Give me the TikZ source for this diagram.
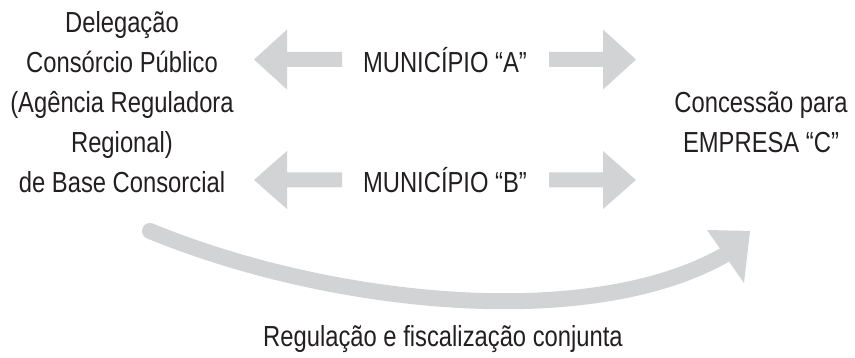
\documentclass[tikz,border=0pt]{standalone}
\usepackage{fontspec}
\setmainfont{Liberation Sans}[FakeStretch=0.82]
\definecolor{arrowgrey}{RGB}{209,211,212}
\definecolor{textgrey}{RGB}{35,31,32}
\begin{document}
\begin{tikzpicture}[x=1pt,y=-1pt,
  txt/.style={font=\fontsize{29}{40}\selectfont, text=textgrey, inner sep=0pt, anchor=base},
  blockfill/.style={fill=arrowgrey, draw=none}]
\useasboundingbox (0,0) rectangle (855,358);
% left text
\node[txt] (l1) at (122,33) {Delegação};
\node[txt] (l2) at (122,73) {Consórcio Público};
\node[txt] (l3) at (122,113) {(Agência Reguladora};
\node[txt] (l4) at (122,153) {Regional)};
\node[txt] (l5) at (122,193) {de Base Consorcial};
% right text
\node[txt] (r1) at (761,113) {Concessão para};
\node[txt] (r2) at (761,153) {EMPRESA “C”};
% middle
\node[txt] (ma) at (445,73) {MUNICÍPIO “A”};
\node[txt] (mb) at (445,193) {MUNICÍPIO “B”};
% bottom
\node[txt] (bt) at (443,347) {Regulação e fiscalização conjunta};
% block arrows row A
\fill[blockfill] (254,59.5) -- (287,29.5) -- (287,52) -- (342,52) -- (342,67) -- (287,67) -- (287,89.5) -- cycle;
\fill[blockfill] (636,59.5) -- (603,29.5) -- (603,52) -- (549,52) -- (549,67) -- (603,67) -- (603,89.5) -- cycle;
% block arrows row B
\fill[blockfill] (254,180) -- (287,151) -- (287,172.5) -- (342,172.5) -- (342,187.5) -- (287,187.5) -- (287,209) -- cycle;
\fill[blockfill] (636,180) -- (603,151) -- (603,172.5) -- (549,172.5) -- (549,187.5) -- (603,187.5) -- (603,209) -- cycle;
% curved arrow
\coordinate (cs) at (150,231);
\coordinate (ce) at (728,253);
\draw[arrowgrey, line width=16pt, line cap=round] (cs) .. controls (330,305) and (592,333) .. (ce);
\fill[blockfill] (707,230) -- (750,231) -- (744,283) -- cycle;
\end{tikzpicture}
\end{document}
